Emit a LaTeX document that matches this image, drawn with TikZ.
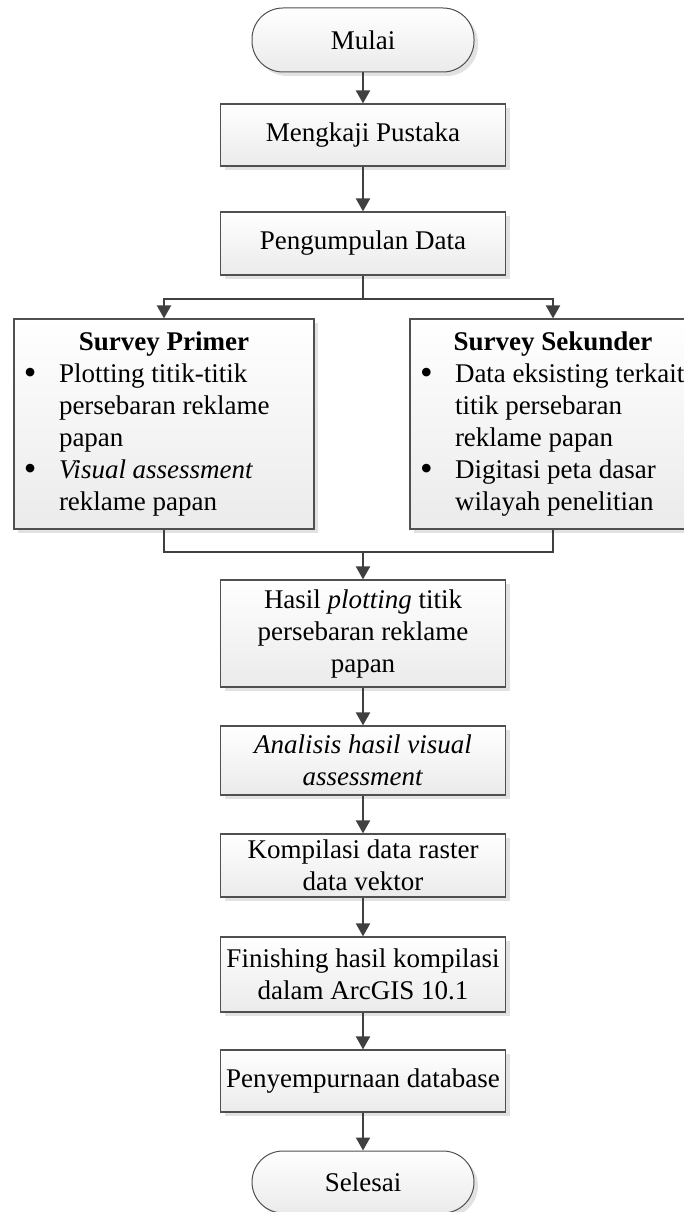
\documentclass[tikz,border=0pt]{standalone}
\usepackage{fontspec}
\setmainfont{Liberation Serif}
\usepackage{array}
\usetikzlibrary{arrows.meta,shadows}
\definecolor{lineC}{HTML}{404040}
\definecolor{borderC}{HTML}{505050}
\definecolor{shadowC}{HTML}{E2E2E2}
\newcommand{\bigbul}{\raisebox{-2.5pt}{\fontsize{36pt}{32pt}\selectfont\textbullet}}
\begin{document}
\begin{tikzpicture}[x=1pt,y=-1pt,
  box/.style={draw=borderC, line width=1.2pt, top color=white, bottom color=black!8,
    drop shadow={shadow xshift=4pt, shadow yshift=-4pt, fill=shadowC, opacity=1},
    align=center, inner sep=0pt, font=\fontsize{27pt}{32pt}\selectfont},
  term/.style={box, rounded corners=31pt, line width=1pt},
  ln/.style={draw=lineC, line width=2pt},
  arr/.style={ln, -{Triangle[width=14pt,length=13pt]}}]
\useasboundingbox (0,0) rectangle (684,1212);

\node[term, minimum width=222pt, minimum height=64pt] (start) at (363,40) {Mulai};
\node[box, minimum width=285pt, minimum height=62pt] (b1) at (363,135) {Mengkaji Pustaka};
\node[box, minimum width=285pt, minimum height=63pt] (b2) at (363,243.5) {Pengumpulan Data};

\node[box, minimum width=300pt, minimum height=210pt] (sp) at (164,424) {%
\begin{tabular}{@{\hspace{5pt}}p{35pt}@{}>{\raggedright\arraybackslash}p{250pt}@{}}
\multicolumn{2}{@{}c@{}}{\textbf{Survey Primer}}\\
\bigbul & Plotting titik-titik\\
 & persebaran reklame\\
 & papan\\
\bigbul & \textit{Visual assessment}\\
 & reklame papan
\end{tabular}};

\node[box, minimum width=286pt, minimum height=210pt] (ss) at (553,424) {%
\begin{tabular}{@{\hspace{5pt}}p{35pt}@{}>{\raggedright\arraybackslash}p{236pt}@{}}
\multicolumn{2}{@{}c@{}}{\textbf{Survey Sekunder}}\\
\bigbul & Data eksisting terkait\\
 & titik persebaran\\
 & reklame papan\\
\bigbul & Digitasi peta dasar\\
 & wilayah penelitian
\end{tabular}};

\node[box, minimum width=285pt, minimum height=107pt] (b3) at (363,633.5) {Hasil \textit{plotting} titik\\persebaran reklame\\papan};
\node[box, minimum width=285pt, minimum height=69pt] (b4) at (363,760.5) {\textit{Analisis hasil visual}\\\textit{assessment}};
\node[box, minimum width=285pt, minimum height=63pt] (b5) at (363,865.5) {Kompilasi data raster\\data vektor};
\node[box, minimum width=285pt, minimum height=75pt] (b6) at (363,974.5) {Finishing hasil kompilasi\\dalam ArcGIS 10.1};
\node[box, minimum width=285pt, minimum height=62pt] (b7) at (363,1081) {Penyempurnaan database};
\node[term, minimum width=222pt, minimum height=62pt] (end) at (363,1182) {Selesai};

\coordinate (split) at (363,299);
\coordinate (join) at (363,552);

\draw[arr] (start) -- (b1);
\draw[arr] (b1) -- (b2);
\draw[ln] (b2.south) -- (split);
\draw[arr] (split) -| (sp.north);
\draw[arr] (split) -| (ss.north);
\draw[ln] (sp.south) |- (join);
\draw[ln] (ss.south) |- (join);
\draw[arr] (join) -- (b3.north);
\draw[arr] (b3) -- (b4);
\draw[arr] (b4) -- (b5);
\draw[arr] (b5) -- (b6);
\draw[arr] (b6) -- (b7);
\draw[arr] (b7) -- (end);
\end{tikzpicture}
\end{document}
